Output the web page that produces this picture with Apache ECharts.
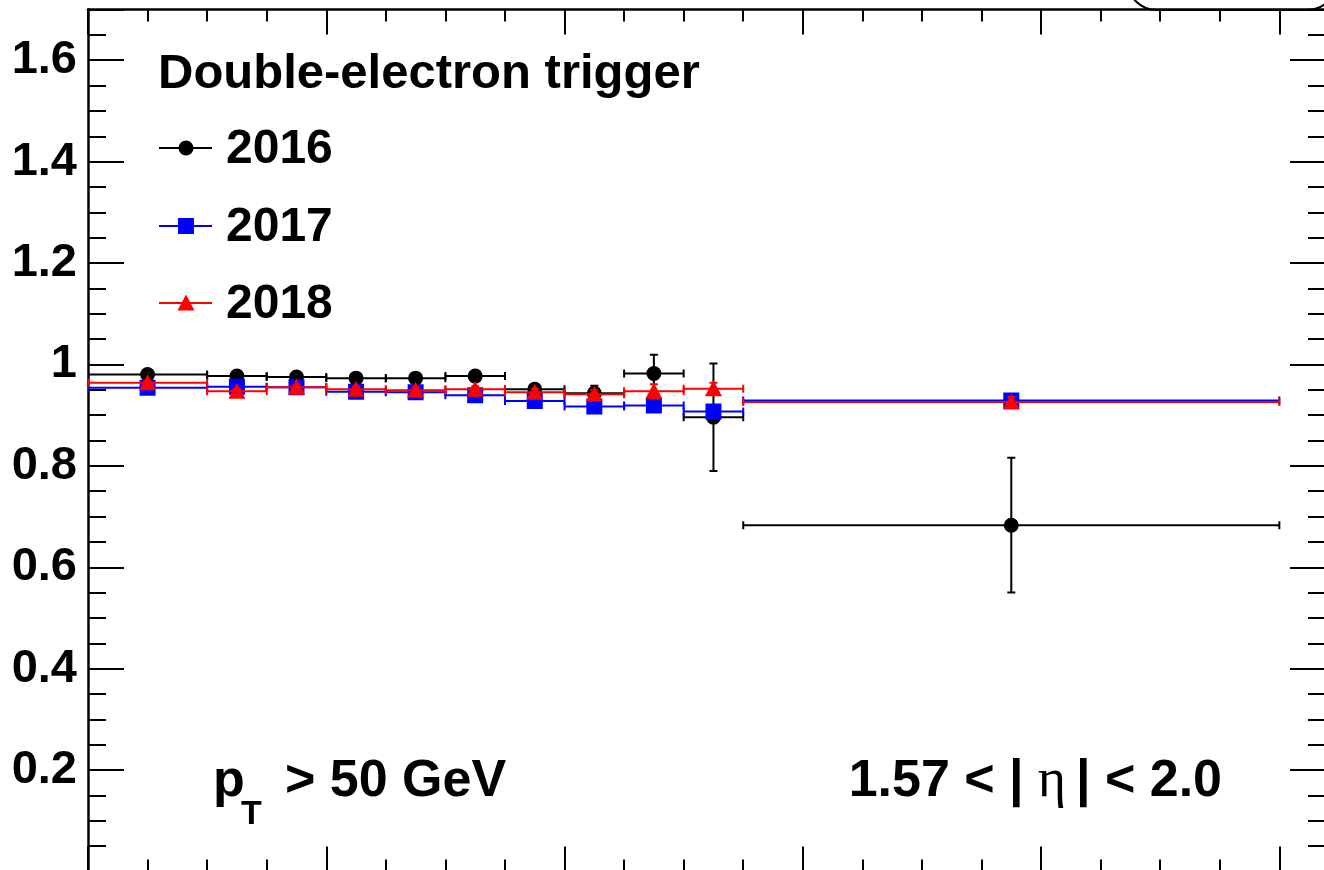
<!DOCTYPE html>
<html><head><meta charset="utf-8">
<script src="https://cdn.jsdelivr.net/npm/echarts@6/dist/echarts.min.js"></script>
<style>html,body{margin:0;padding:0;background:#fff;overflow:hidden}#c{width:1324px;height:870px}</style>
</head><body><div id="c"></div>
<script>
// ---- data ----
const binLow  = [0, 2, 3, 4, 5, 6, 7, 8, 9, 10, 11];
const binHigh = [2, 3, 4, 5, 6, 7, 8, 9, 10, 11, 20];
const eff2016 = [0.980, 0.977, 0.975, 0.973, 0.973, 0.977, 0.951, 0.943, 0.982, 0.896, 0.683];
const err2016 = [0.005, 0.005, 0.005, 0.006, 0.007, 0.008, 0.010, 0.015, 0.037, 0.106, 0.133];
const eff2017 = [0.954, 0.956, 0.955, 0.946, 0.945, 0.939, 0.928, 0.917, 0.919, 0.907, 0.929];
const err2017 = [0.003, 0.003, 0.004, 0.004, 0.005, 0.006, 0.007, 0.008, 0.010, 0.012, 0.008];
const eff2018 = [0.964, 0.947, 0.955, 0.951, 0.949, 0.951, 0.945, 0.941, 0.947, 0.952, 0.926];
const err2018 = [0.004, 0.004, 0.005, 0.005, 0.006, 0.006, 0.007, 0.008, 0.014, 0.012, 0.010];
const seriesNames = ['2016', '2017', '2018'];
const titleText = 'Double-electron trigger';
const yMajorTicks = [0.2, 0.4, 0.6, 0.8, 1.0, 1.2, 1.4, 1.6];

const FONT = '"Liberation Sans", Arial, Helvetica, sans-serif';
const SERIF = '"Liberation Serif", "DejaVu Serif", serif';
const chart = echarts.init(document.getElementById('c'), null, {renderer: 'canvas'});

function makeData(vals, errs) {
  return vals.map((v, i) => [binLow[i], binHigh[i], v, errs[i]]);
}

function markerShape(shape, cx, cy, color) {
  if (shape === 'circle') return {type: 'circle', shape: {cx: cx, cy: cy, r: 7.5}, style: {fill: color}};
  if (shape === 'square') return {type: 'rect', shape: {x: cx - 8, y: cy - 8, width: 16, height: 16}, style: {fill: color}};
  return {type: 'polygon', shape: {points: [[cx, cy - 8.5], [cx - 8.5, cy + 7.5], [cx + 8.5, cy + 7.5]]}, style: {fill: color}};
}

function makeRenderer(color, shape) {
  return function (params, api) {
    const xl = api.value(0), xh = api.value(1), y = api.value(2), e = api.value(3);
    const xc = (xl + xh) / 2;
    const pL = api.coord([xl, y]), pH = api.coord([xh, y]);
    const pT = api.coord([xc, y + e]), pB = api.coord([xc, y - e]);
    const c = api.coord([xc, y]);
    const ls = {stroke: color, lineWidth: 2};
    const cap = 4;
    const children = [
      {type: 'line', shape: {x1: pL[0], y1: pL[1], x2: pH[0], y2: pH[1]}, style: ls},
      {type: 'line', shape: {x1: pL[0], y1: pL[1] - cap, x2: pL[0], y2: pL[1] + cap}, style: ls},
      {type: 'line', shape: {x1: pH[0], y1: pH[1] - cap, x2: pH[0], y2: pH[1] + cap}, style: ls},
      {type: 'line', shape: {x1: pT[0], y1: pT[1], x2: pB[0], y2: pB[1]}, style: ls},
      {type: 'line', shape: {x1: pT[0] - cap, y1: pT[1], x2: pT[0] + cap, y2: pT[1]}, style: ls},
      {type: 'line', shape: {x1: pB[0] - cap, y1: pB[1], x2: pB[0] + cap, y2: pB[1]}, style: ls},
      markerShape(shape, c[0], c[1], color)
    ];
    return {type: 'group', children: children};
  };
}

const X_MIN = 0, X_MAX = 20.8, Y_MIN = 0, Y_MAX = 1.7;
const tickStyle = {color: '#000', width: 2};
function xAx(pos, interval, len, line) {
  return {type: 'value', position: pos, min: X_MIN, max: X_MAX, interval: interval,
    axisLine: {show: line, onZero: false, lineStyle: {color: '#000', width: 2.5}},
    axisTick: {show: true, inside: true, length: len, lineStyle: tickStyle},
    axisLabel: {show: false}, splitLine: {show: false}};
}
function yAx(pos, interval, len, line, labels) {
  return {type: 'value', position: pos, min: Y_MIN, max: Y_MAX, interval: interval,
    axisLine: {show: line, onZero: false, lineStyle: {color: '#000', width: 2.5}},
    axisTick: {show: true, inside: true, length: len, lineStyle: tickStyle},
    axisLabel: {show: labels, inside: false, margin: 11, color: '#000', fontSize: 47, fontWeight: 'bold', fontFamily: FONT,
      formatter: function (v) {
        const m = yMajorTicks.find(t => Math.abs(t - v) < 1e-6);
        if (m === undefined) return '';
        return Math.abs(m - 1) < 1e-6 ? '1' : m.toFixed(1);
      }},
    splitLine: {show: false}};
}

const legendY = [148, 226, 303];
const colors = ['#000000', '#0000ff', '#ff0000'];
const shapes = ['circle', 'square', 'triangle'];
const graphics = [];
graphics.push({type: 'text', style: {text: titleText, x: 158, y: 74, font: 'bold 49px ' + FONT, fill: '#000', verticalAlign: 'middle'}});
for (let i = 0; i < 3; i++) {
  const gy = legendY[i];
  graphics.push({type: 'line', shape: {x1: 159, y1: gy, x2: 212, y2: gy}, style: {stroke: colors[i], lineWidth: 2}});
  graphics.push(markerShape(shapes[i], 186, gy, colors[i]));
  graphics.push({type: 'text', style: {text: seriesNames[i], x: 226, y: gy + 2, font: 'bold 48px ' + FONT, fill: '#000', verticalAlign: 'middle'}});
}
graphics.push({type: 'text', style: {text: 'p', x: 213, y: 782, font: 'bold 52px ' + FONT, fill: '#000', verticalAlign: 'middle'}});
graphics.push({type: 'text', style: {text: 'T', x: 241, y: 815, font: 'bold 34px ' + FONT, fill: '#000', verticalAlign: 'middle'}});
graphics.push({type: 'text', style: {text: '> 50 GeV', x: 285, y: 782, font: 'bold 52px ' + FONT, fill: '#000', verticalAlign: 'middle'}});
graphics.push({type: 'text', style: {
  text: '{a|1.57 < |}{e|\u03b7}{a||}{a| < 2.0}', x: 1222, y: 782, align: 'right', verticalAlign: 'middle',
  rich: {
    a: {fontFamily: FONT, fontWeight: 'bold', fontSize: 52, fill: '#000', color: '#000'},
    e: {fontFamily: SERIF, fontWeight: 'normal', fontSize: 54, fill: '#000', color: '#000', padding: [0, 10, 0, 14]}
  }}});
graphics.push({type: 'rect', shape: {x: 1127, y: -60, width: 210, height: 70, r: 30}, style: {fill: 'none', stroke: '#000', lineWidth: 2}});

const option = {
  backgroundColor: '#ffffff',
  animation: false,
  grid: {left: 88, top: 9.5, width: 1239, height: 862, containLabel: false, outerBoundsMode: 'none'},
  xAxis: [xAx('bottom', 4, 25, true), xAx('bottom', 1, 12, false), xAx('top', 4, 25, true), xAx('top', 1, 12, false)],
  yAxis: [yAx('left', 0.2, 36, true, true), yAx('left', 0.05, 18, false, false), yAx('right', 0.2, 37, true, false), yAx('right', 0.05, 19, false, false)],
  series: [
    {name: seriesNames[0], type: 'custom', xAxisIndex: 0, yAxisIndex: 0, renderItem: makeRenderer('#000000', 'circle'), data: makeData(eff2016, err2016), encode: {x: [0, 1], y: [2]}, clip: true, z: 2},
    {name: seriesNames[1], type: 'custom', xAxisIndex: 0, yAxisIndex: 0, renderItem: makeRenderer('#0000ff', 'square'), data: makeData(eff2017, err2017), encode: {x: [0, 1], y: [2]}, clip: true, z: 3},
    {name: seriesNames[2], type: 'custom', xAxisIndex: 0, yAxisIndex: 0, renderItem: makeRenderer('#ff0000', 'triangle'), data: makeData(eff2018, err2018), encode: {x: [0, 1], y: [2]}, clip: true, z: 4}
  ],
  graphic: graphics
};
chart.setOption(option);
</script>
</body></html>
